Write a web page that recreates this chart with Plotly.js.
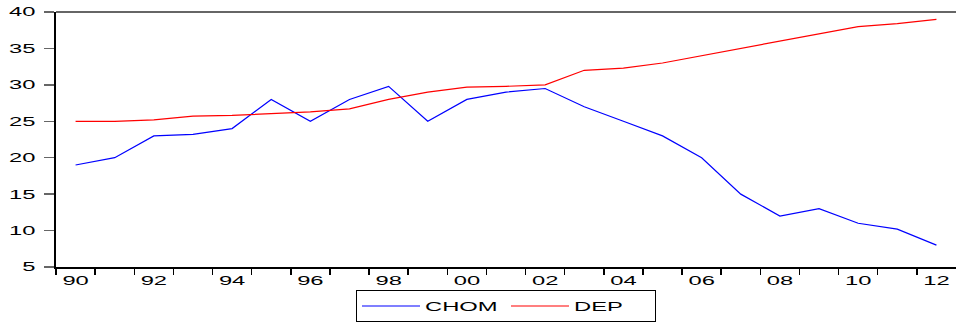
<!DOCTYPE html>
<html><head><meta charset="utf-8">
<script src="https://cdn.plot.ly/plotly-3.0.1.min.js"></script>
<style>html,body{margin:0;padding:0;background:#fff}#chart{width:956px;height:324px}</style>
</head><body><div id="chart"></div>
<script>
const years = [1990,1991,1992,1993,1994,1995,1996,1997,1998,1999,2000,2001,2002,2003,2004,2005,2006,2007,2008,2009,2010,2011,2012];
const chom = [19,20,23,23.2,24,28,25,28,29.8,25,28,29,29.5,27,25,23,20,15,12,13,11,10.2,8];
const dep = [25,25,25.2,25.7,25.8,26,26.3,26.7,28,29,29.7,29.8,30,32,32.3,33,34,35,36,37,38,38.4,39];
const labelYears = [1990,1992,1994,1996,1998,2000,2002,2004,2006,2008,2010,2012];
const labelText = ["90","92","94","96","98","00","02","04","06","08","10","12"];
const yTicks = [5,10,15,20,25,30,35,40];

const tickBounds = years.map(y => y - 0.5);
const font = {family: "Liberation Sans, Arial, sans-serif", size: 12.5, color: "#000"};
const STRETCH = 1.9;

const traces = [
  {x: years, y: chom, name: "CHOM", type: "scatter", mode: "lines", line: {color: "#0000ff", width: 1.2}},
  {x: years, y: dep, name: "DEP", type: "scatter", mode: "lines", line: {color: "#ff0000", width: 1.2}},
  {x: [years[0]], y: [null], xaxis: "x2", showlegend: false, hoverinfo: "skip", type: "scatter"}
];

const layout = {
  width: 956, height: 324,
  margin: {l: 56, r: 0, t: 12, b: 57, autoexpand: false},
  paper_bgcolor: "#fff", plot_bgcolor: "#fff",
  font: font,
  showlegend: true,
  legend: {orientation: "h", xref: "paper", x: 0.5, xanchor: "center",
           yref: "container", y: 0.005, yanchor: "bottom",
           bordercolor: "#000", borderwidth: 1, bgcolor: "#fff", font: font,
           itemwidth: 58, entrywidth: 76, entrywidthmode: "pixels", tracegroupgap: 0},
  xaxis: {range: [1989.5, 2012.5], tickvals: tickBounds, showticklabels: false,
          ticks: "outside", ticklen: 6, tickwidth: 1.5, tickcolor: "#000",
          showline: true, linecolor: "#000", linewidth: 1.5, showgrid: false, zeroline: false,
          automargin: false},
  xaxis2: {overlaying: "x", anchor: "y", side: "bottom", range: [1989.5, 2012.5],
           tickvals: labelYears, ticktext: labelText, ticks: "", ticklen: 0,
           showline: false, showgrid: false, zeroline: false, tickfont: font,
           ticklabelstandoff: 4, automargin: false},
  yaxis: {range: [5, 40], tickvals: yTicks, ticks: "outside", ticklen: 10, tickwidth: 1.5,
          tickcolor: "#666", showline: true, linecolor: "#000", linewidth: 2,
          showgrid: false, zeroline: false, tickfont: font, ticklabelstandoff: 6,
          automargin: false},
  shapes: [
    {type: "line", xref: "paper", yref: "paper", x0: 0, x1: 1, y0: 1, y1: 1,
     line: {color: "#666", width: 2}}
  ]
};

Plotly.newPlot("chart", traces, layout, {displayModeBar: false, staticPlot: true}).then(gd => {
  gd.querySelectorAll(".xtick text, .x2tick text, .ytick text, .legendtext").forEach(t => {
    const w = t.getComputedTextLength();
    t.setAttribute("textLength", (w * STRETCH).toFixed(1));
    t.setAttribute("lengthAdjust", "spacingAndGlyphs");
  });
});
</script></body></html>
